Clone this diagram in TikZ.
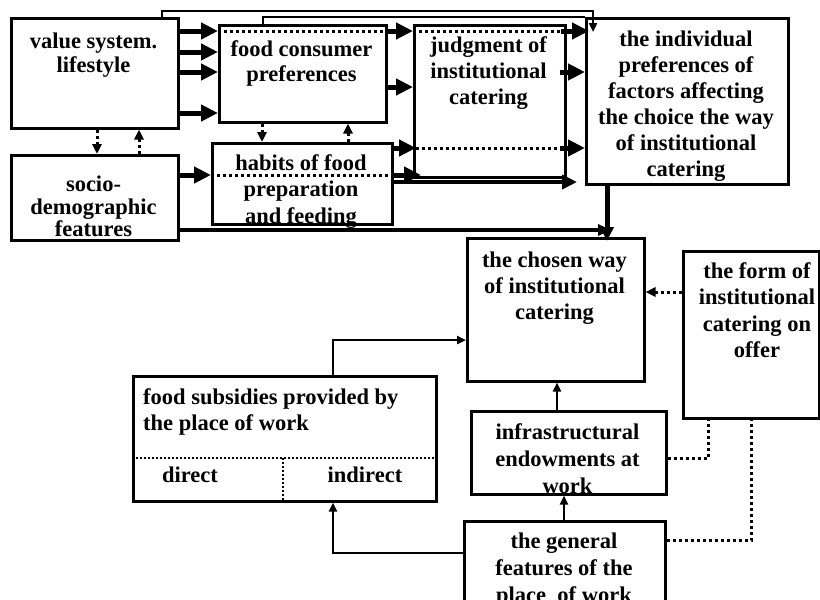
\documentclass[tikz,border=0pt]{standalone}
\usepackage{fontspec}
\setmainfont{Liberation Serif}
\usetikzlibrary{arrows.meta,calc}
\tikzset{
  box/.style={draw, line width=2.5pt, inner sep=0pt, anchor=north west},
  txt/.style={inner sep=0pt, align=center, anchor=north, font=\fontsize{22.5}{#1}\selectfont\bfseries},
  txt/.default=26,
  tk/.style={line width=5pt, -{Triangle[length=17pt,width=16pt]}},
  tkm/.style={line width=4.5pt, -{Triangle[length=15pt,width=14pt]}},
  dotl/.style={line width=3pt, dash pattern=on 3pt off 3pt},
  dotar/.style={dotl, -{Triangle[length=10pt,width=9pt]}},
  dotthin/.style={line width=2pt, dash pattern=on 2pt off 2pt},
  thinl/.style={line width=2.5pt},
  thinar/.style={line width=2.5pt, -{Triangle[length=9pt,width=8pt]}},
}
\begin{document}
\begin{tikzpicture}[x=1pt,y=-1pt]
\useasboundingbox (0,0) rectangle (820,600);
\clip (0,0) rectangle (820,600);
% boxes
\node[box, minimum width=167pt, minimum height=110pt] (A) at (10,17) {};
\node[box, minimum width=167pt, minimum height=97pt] (B) at (218,24) {};
\node[box, minimum width=167pt, minimum height=85pt] (C) at (10,154) {};
\node[box, minimum width=180pt, minimum height=81pt] (D) at (211,142) {};
\node[box, minimum width=151pt, minimum height=152pt] (E) at (413,24) {};
\node[box, minimum width=202pt, minimum height=166pt] (F) at (585,17) {};
\node[box, minimum width=177pt, minimum height=143pt] (G) at (466,237) {};
\node[box, minimum width=136pt, minimum height=167pt] (H) at (682,250) {};
\node[box, minimum width=195pt, minimum height=83pt] (I) at (470,410) {};
\node[box, minimum width=201pt, minimum height=95pt] (J) at (463,520) {};
\node[box, minimum width=303pt, minimum height=125pt] (K) at (132,375) {};
% texts
\node[txt=23.5] (tA) at (93.5,33) {value system.\\lifestyle};
\node[txt=25] (tB) at (301.5,40) {food consumer\\preferences};
\node[txt=22.5] (tC) at (93.5,176) {socio-\\demographic\\features};
\node[txt=26.5] (tD) at (301,154) {habits of food\\preparation\\and feeding};
\node[txt] (tE) at (488.5,36) {judgment of\\institutional\\catering};
\node[txt] (tF) at (686,31) {the individual\\preferences of\\factors affecting\\the choice the way\\of institutional\\catering};
\node[txt] (tG) at (554.5,252) {the chosen way\\of institutional\\catering};
\node[txt=26.5] (tH) at (757,262) {the form of\\institutional\\catering on\\offer};
\node[txt=27] (tI) at (567.5,423) {infrastructural\\endowments at\\work};
\node[txt=27] (tJ) at (564,533) {the general\\features of the\\place\ \ of work};
\node[txt, anchor=north west, align=left] (tK) at (143,388) {food subsidies provided by\\the place of work};
\node[txt] (tdir) at (190,467) {direct};
\node[txt] (tind) at (365,467) {indirect};
% K inner dotted lines
\draw[dotthin] (K.west |- 0,458) -- (K.east |- 0,458);
\draw[dotthin] (283,458) -- (K.south -| 283,0);
% top loops
\draw[thinar] (A.north -| 162,0) |- (593,11) -- ($(F.north west)+(8,15)$);
\draw[thinl] (B.north -| 263,0) |- (F.north west);
% A -> B rows
\foreach \yy in {31,52,72,113} {\draw[tk] (A.east |- 0,\yy) -- (B.west |- 0,\yy);}
\draw[dotl] (B.west |- 0,31) -- (B.east |- 0,31);
\draw[tk] (B.east |- 0,31) -- (E.west |- 0,31);
\draw[dotl] (E.west |- 0,31) -- ($(E.east |- 0,31)+(-6,0)$);
\draw[tk] ($(E.east |- 0,31)+(-6,0)$) -- ($(F.west |- 0,31)+(4,0)$);
% B -> E, E -> F
\draw[tk] (B.east |- 0,87) -- (E.west |- 0,87);
\draw[tk] ($(E.east |- 0,72)+(-7,0)$) -- (F.west |- 0,72);
% D -> E -> F
\draw[tk] (D.east |- 0,148) -- ($(E.west |- 0,148)+(3,0)$);
\draw[dotl] ($(E.west |- 0,148)+(3,0)$) -- ($(E.east |- 0,148)+(-7,0)$);
\draw[tk] ($(E.east |- 0,148)+(-7,0)$) -- (F.west |- 0,148);
% C -> D -> E
\draw[tk] (C.east |- 0,175) -- (D.west |- 0,175);
\draw[dotl] (D.west |- 0,175) -- (D.east |- 0,175);
\draw[tk] (D.east |- 0,175) -- ($(E.west |- 0,175)+(8,0)$);
% D -> F (bottom)
\draw[tkm] (D.east |- 0,182) -- ($(F.west |- 0,182)+(-8,0)$);
% C -> chosen way
\draw[line width=3.5pt, -{Triangle[length=13pt,width=11pt]}] (C.east |- 0,230) -- (611,230);
% F -> G
\draw[line width=5pt, -{Triangle[length=14pt,width=13pt]}] (F.south -| 607,0) -- ($(G.north -| 607,0)+(0,4)$);
% dotted arrows
\draw[dotar] (A.south -| 97,0) -- (C.north -| 97,0);
\draw[dotar] (C.north -| 139,0) -- (A.south -| 139,0);
\draw[dotar] (B.south -| 262,0) -- (D.north -| 262,0);
\draw[dotar] (D.north -| 348,0) -- (B.south -| 348,0);
\draw[dotar] (H.west |- 0,292) -- (G.east |- 0,292);
\draw[dotl] (I.east |- 0,458) -| (H.south -| 708,0);
\draw[dotl] (J.east |- 0,540) -| (H.south -| 751,0);
% lower thin arrows
\draw[thinar] (K.north -| 333,0) |- (G.west |- 0,340);
\draw[thinar] (J.west |- 0,553) -| (K.south -| 333,0);
\draw[thinar] (J.north -| 564,0) -- (I.south -| 564,0);
\draw[thinar] (I.north -| 557,0) -- (G.south -| 557,0);
\end{tikzpicture}
\end{document}
